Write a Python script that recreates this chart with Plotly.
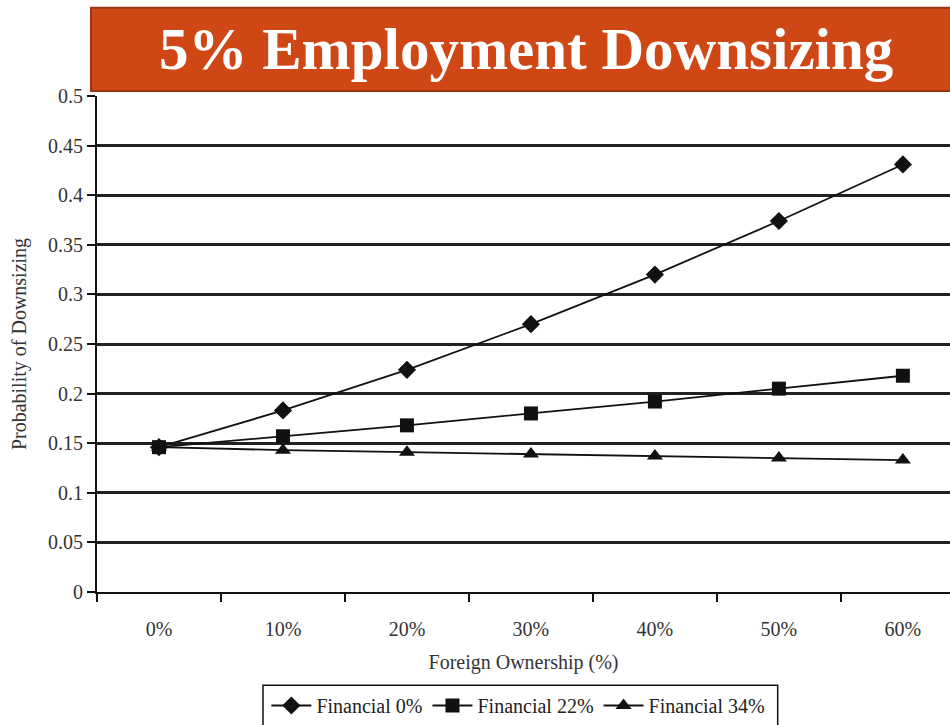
import plotly.graph_objects as go

# Foreign ownership levels (x categories)
ownership = ["0%", "10%", "20%", "30%", "40%", "50%", "60%"]

# Predicted probability of 5% employment downsizing by financial ownership share
financial_0 = [0.146, 0.183, 0.224, 0.270, 0.320, 0.374, 0.431]
financial_22 = [0.146, 0.157, 0.168, 0.180, 0.192, 0.205, 0.218]
financial_34 = [0.146, 0.143, 0.141, 0.139, 0.137, 0.135, 0.133]

series_names = ["Financial 0%", "Financial 22%", "Financial 34%"]
series_values = [financial_0, financial_22, financial_34]
series_symbols = ["diamond", "square", "triangle-up"]
series_sizes = [14, 14, 14]

y_ticks = [0, 0.05, 0.1, 0.15, 0.2, 0.25, 0.3, 0.35, 0.4, 0.45, 0.5]
y_tick_labels = ["0", "0.05", "0.1", "0.15", "0.2", "0.25", "0.3", "0.35", "0.4", "0.45", "0.5"]

title_text = "5% Employment Downsizing"
x_title = "Foreign Ownership (%)"
y_title = "Probability of Downsizing"

SERIF = "Liberation Serif"
TEXT_GRAY = "#333333"

fig = go.Figure()
for name, vals, sym, sz in zip(series_names, series_values, series_symbols, series_sizes):
    fig.add_trace(go.Scatter(
        x=ownership, y=vals, name=name, mode="lines+markers",
        line=dict(color="#111111", width=1.8),
        marker=dict(symbol=sym, size=sz, color="#111111"),
    ))

# Title banner
fig.add_shape(type="rect", xref="paper", yref="paper",
              x0=-0.007, x1=1.02, y0=1.01, y1=1.178,
              fillcolor="#D04716", line=dict(color="#9C3414", width=2), layer="above")
fig.add_annotation(text="<b>" + title_text + "</b>", xref="paper", yref="paper",
                   x=0.503, y=1.094, xanchor="center", yanchor="middle", showarrow=False,
                   font=dict(family=SERIF, size=59, color="white"))

# Legend frame
fig.add_shape(type="rect", xref="paper", yref="paper",
              x0=0.1946, x1=0.798, y0=-0.188, y1=-0.29,
              fillcolor="rgba(0,0,0,0)", line=dict(color="#111111", width=1.5))

fig.update_layout(
    width=950, height=725,
    margin=dict(l=97, r=0, t=96, b=129),
    paper_bgcolor="white", plot_bgcolor="white",
    font=dict(family=SERIF, size=20, color=TEXT_GRAY),
    showlegend=True,
    legend=dict(orientation="h", x=0.494, xanchor="center", y=-0.19, yanchor="top",
                font=dict(family=SERIF, size=20, color="#222222"),
                bgcolor="rgba(0,0,0,0)", borderwidth=0, itemwidth=40),
    xaxis=dict(
        type="category", categoryorder="array", categoryarray=ownership,
        range=[-0.5, 6.38], tickson="boundaries", ticks="outside", ticklen=8,
        tickwidth=2, tickcolor="#111111", showgrid=False,
        showline=True, linecolor="#111111", linewidth=2,
        ticklabelstandoff=18,
        title=dict(text=x_title, standoff=16, font=dict(family=SERIF, size=20, color=TEXT_GRAY)),
        tickfont=dict(family=SERIF, size=20, color=TEXT_GRAY),
        zeroline=False,
    ),
    yaxis=dict(
        range=[0, 0.5], tickvals=y_ticks, ticktext=y_tick_labels,
        ticks="outside", ticklen=8, tickwidth=2, tickcolor="#111111",
        showgrid=True, gridcolor="#222222", gridwidth=2.5,
        showline=True, linecolor="#111111", linewidth=2,
        zeroline=False,
        title=dict(text=y_title, standoff=16, font=dict(family=SERIF, size=20, color=TEXT_GRAY)),
        tickfont=dict(family=SERIF, size=20, color=TEXT_GRAY),
    ),
)

fig.write_html("out.html")
